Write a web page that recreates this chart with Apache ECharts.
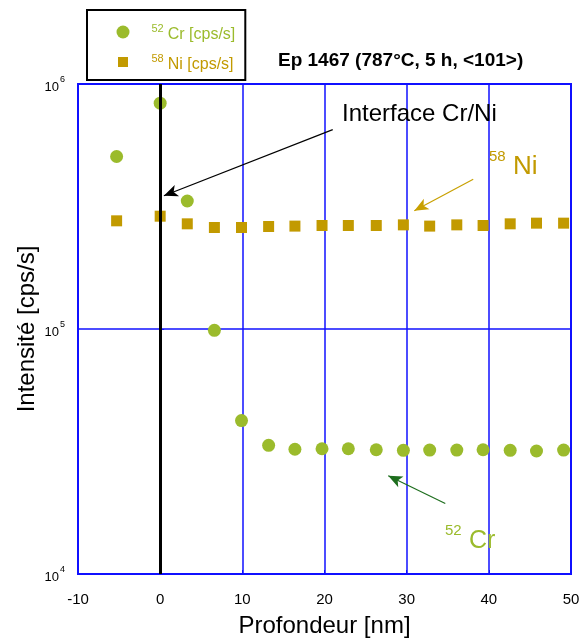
<!DOCTYPE html>
<html>
<head>
<meta charset="utf-8">
<script src="https://cdn.jsdelivr.net/npm/echarts@6/dist/echarts.min.js"></script>
<style>
html,body{margin:0;padding:0;background:#fff;}
#c{width:584px;height:643px;}
</style>
</head>
<body>
<div id="c"></div>
<script>
// ---- data ----
const depth = [-5.3, 0, 3.3, 6.6, 9.9, 13.2, 16.4, 19.7, 22.9, 26.3, 29.6, 32.8, 36.1, 39.3, 42.6, 45.8, 49.1];
const cr52 = [506000, 835000, 333000, 98800, 42300, 33500, 32300, 32450, 32450, 32150, 31970, 32050, 32050, 32150, 31970, 31770, 32050];
const ni58 = [276400, 288700, 268700, 259600, 259600, 262000, 263000, 264500, 264500, 264500, 266100, 263000, 266100, 264500, 268700, 270400, 270400];
const xTicks = [-10, 0, 10, 20, 30, 40, 50];
const yTickExponents = [4, 5, 6];
const interfaceDepth = 0;
// annotation arrows in data space: [fromX, fromY, toX, toY]
const arrowInterface = [21.0, 651000, 0.45, 349800];
const arrowNi = [38.1, 408600, 30.93, 304100];
const arrowCr = [34.7, 19390, 27.76, 25170];

const FF = '"Liberation Sans", Arial, sans-serif';
const GREEN = '#9BBB2C';
const MUSTARD = '#C29A00';
const BLUE = '#1010ff';

const chart = echarts.init(document.getElementById('c'), null, {renderer: 'canvas'});

function arrowPair(a, color) {
  return [
    {coord: [a[0], a[1]], symbol: 'none', lineStyle: {color: color, width: 1.2, type: 'solid'}},
    {coord: [a[2], a[3]], symbol: 'arrow', symbolSize: [9, 14]}
  ];
}

const option = {
  animation: false,
  textStyle: {fontFamily: FF},
  title: {
    text: 'Ep 1467 (787°C, 5 h, <101>)',
    left: 278, top: 51, padding: 0,
    textStyle: {fontFamily: FF, fontSize: 19, fontWeight: 'bold', color: '#000'}
  },
  legend: {
    orient: 'vertical',
    left: 87, top: 10,
    padding: [13, 10, 7, 28],
    itemGap: 10,
    itemWidth: 13, itemHeight: 13,
    borderColor: '#000', borderWidth: 2,
    backgroundColor: '#fff',
    data: [
      {name: 'Cr', icon: 'circle'},
      {name: 'Ni', icon: 'rect', itemStyle: {borderColor: '#fff', borderWidth: 3}}
    ],
    formatter: function (name) {
      return name === 'Cr' ? '{sg|52}{tg|Cr [cps/s]}' : '{sn|58}{tn|Ni [cps/s]}';
    },
    textStyle: {
      fontFamily: FF,
      rich: {
        sg: {fontSize: 11, color: GREEN, verticalAlign: 'bottom', padding: [0, 4, 9, 17], fontFamily: FF},
        tg: {fontSize: 16, color: GREEN, verticalAlign: 'bottom', padding: [6, 0, 0, 0], fontFamily: FF},
        sn: {fontSize: 11, color: MUSTARD, verticalAlign: 'bottom', padding: [0, 4, 9, 17], fontFamily: FF},
        tn: {fontSize: 16, color: MUSTARD, verticalAlign: 'bottom', padding: [6, 0, 0, 0], fontFamily: FF}
      }
    }
  },
  grid: {
    left: 78, right: 13, top: 84, bottom: 65,
    show: true, borderColor: BLUE, borderWidth: 2, backgroundColor: 'transparent'
  },
  xAxis: {
    type: 'value',
    min: xTicks[0], max: xTicks[xTicks.length - 1], interval: 10,
    name: 'Profondeur [nm]',
    nameLocation: 'middle', nameGap: 40, nameMoveOverlap: false,
    nameTextStyle: {fontFamily: FF, fontSize: 24, color: '#000'},
    axisLine: {show: true, onZero: false, lineStyle: {color: BLUE, width: 2}},
    axisTick: {show: true, inside: true, length: 4, lineStyle: {color: BLUE}},
    axisLabel: {fontFamily: FF, fontSize: 15, color: '#000', margin: 18},
    splitLine: {show: true, lineStyle: {color: BLUE, width: 1.5}}
  },
  yAxis: {
    type: 'log', logBase: 10,
    min: Math.pow(10, yTickExponents[0]), max: Math.pow(10, yTickExponents[yTickExponents.length - 1]),
    name: 'Intensité [cps/s]',
    nameLocation: 'middle', nameGap: 39, nameMoveOverlap: false,
    nameTextStyle: {fontFamily: FF, fontSize: 24, color: '#000'},
    axisLine: {show: true, lineStyle: {color: BLUE, width: 2}},
    axisTick: {show: true, inside: true, length: 4, lineStyle: {color: BLUE}},
    minorTick: {show: false},
    axisLabel: {
      margin: 13,
      formatter: function (v) { return '{b|10}{s|' + Math.round(Math.log10(v)) + '}'; },
      rich: {
        b: {fontFamily: FF, fontSize: 13, color: '#000', verticalAlign: 'bottom', padding: [6, 0, 0, 0]},
        s: {fontFamily: FF, fontSize: 9, color: '#000', verticalAlign: 'bottom', padding: [0, 0, 9, 1]}
      }
    },
    splitLine: {show: true, lineStyle: {color: BLUE, width: 1.5}}
  },
  series: [
    {
      name: 'Cr', type: 'scatter',
      symbol: 'circle', symbolSize: 13,
      itemStyle: {color: GREEN, opacity: 1},
      data: depth.map((d, i) => [d, cr52[i]]),
      z: 3
    },
    {
      name: 'Ni', type: 'scatter',
      symbol: 'rect', symbolSize: 11,
      itemStyle: {color: MUSTARD, opacity: 1},
      data: depth.map((d, i) => [d, ni58[i]]),
      z: 3
    },
    {
      name: 'annotations', type: 'scatter', data: [], z: 5,
      markLine: {
        silent: true, animation: false,
        label: {show: false},
        emphasis: {disabled: true},
        symbol: ['none', 'none'],
        data: [
          {xAxis: interfaceDepth, symbol: 'none', lineStyle: {color: '#000', width: 3, type: 'solid'}},
          arrowPair(arrowInterface, '#000'),
          arrowPair(arrowNi, '#C8A000'),
          arrowPair(arrowCr, '#1E6E1E')
        ]
      }
    }
  ],
  graphic: [
    {type: 'text', z: 10, style: {x: 342, y: 114, text: 'Interface Cr/Ni', fill: '#000', font: '24px ' + FF, verticalAlign: 'middle'}},
    {type: 'text', z: 10, style: {x: 489, y: 157, text: '58', fill: MUSTARD, font: '15px ' + FF, verticalAlign: 'middle'}},
    {type: 'text', z: 10, style: {x: 513, y: 167, text: 'Ni', fill: MUSTARD, font: '26px ' + FF, verticalAlign: 'middle'}},
    {type: 'text', z: 10, style: {x: 445, y: 531, text: '52', fill: GREEN, font: '15px ' + FF, verticalAlign: 'middle'}},
    {type: 'text', z: 10, style: {x: 469, y: 541, text: 'Cr', fill: GREEN, font: '25px ' + FF, verticalAlign: 'middle'}}
  ]
};
chart.setOption(option);
</script>
</body>
</html>
